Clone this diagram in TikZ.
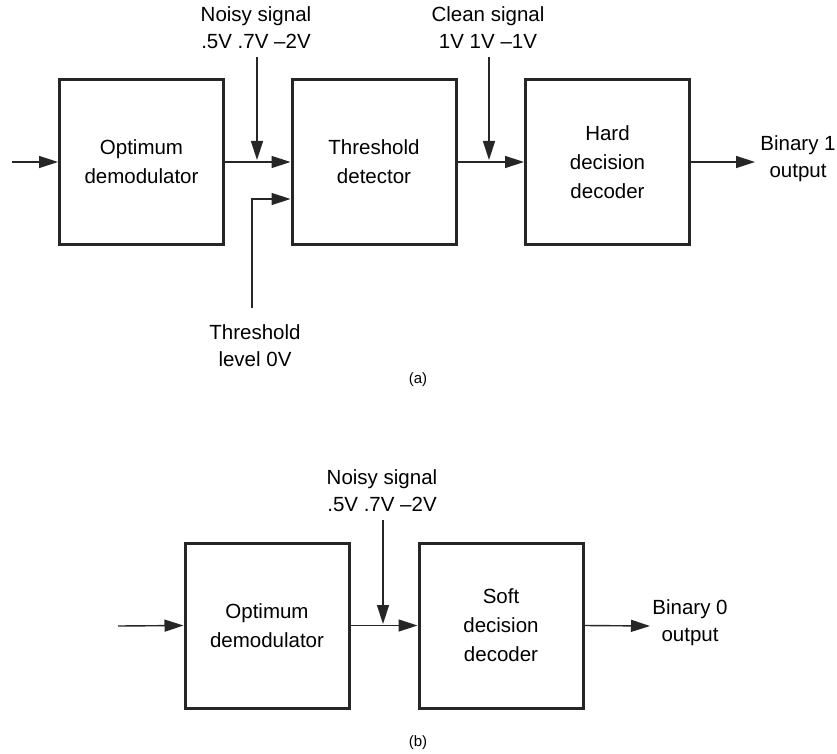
\documentclass[tikz,border=0pt]{standalone}
\usepackage{fontspec}
\setmainfont{Liberation Sans}
\usetikzlibrary{arrows.meta}
\begin{document}
\begin{tikzpicture}[x=1pt,y=-1pt,
  blk/.style={draw=black!85,line width=3pt,minimum width=164pt,minimum height=165pt,inner sep=0pt,align=center,font=\fontsize{20.5}{29}\selectfont},
  lbl/.style={align=center,inner sep=0pt,font=\fontsize{20.5}{27}\selectfont},
  figcap/.style={inner sep=0pt,font=\fontsize{15}{18}\selectfont},
  conn/.style={line width=1.4pt,draw=black!85,-{Triangle[length=19pt,width=12pt]}}]
\useasboundingbox (0,0) rectangle (837,754);
% (a)
\node[blk] (od) at (141.5,162) {Optimum\\demodulator};
\node[blk] (td) at (374,162) {Threshold\\detector};
\node[blk] (hd) at (607.5,162) {Hard\\decision\\decoder};
\coordinate (ina) at (12,162);
\coordinate (outa) at (755,162);
\node[lbl] (bin1) at (798,159) {Binary 1\\output};
\node[lbl] (noisya) at (256,28) {Noisy signal\\.5V .7V –2V};
\node[lbl] (cleana) at (488,28) {Clean signal\\1V 1V –1V};
\node[lbl] (thr) at (255,346) {Threshold\\level 0V};
\coordinate (nya1) at (257,57);
\coordinate (nya2) at (257,160);
\coordinate (cla1) at (489,57);
\coordinate (cla2) at (489,160);
\coordinate (tha1) at (252,308);
\coordinate (tha2) at (252,199);
\coordinate (tha3) at (td.west |- tha2);
\draw[conn] (ina) -- (od.west);
\draw[conn] (od.east) -- (td.west);
\draw[conn] (td.east) -- (hd.west);
\draw[conn] (hd.east) -- (outa);
\draw[conn] (nya1) -- (nya2);
\draw[conn] (cla1) -- (cla2);
\draw[conn] (tha1) -- (tha2) -- (tha3);
\node[figcap] (capa) at (418,380) {(a)};
% (b)
\node[blk] (odb) at (267,625.5) {Optimum\\demodulator};
\node[blk] (sd) at (501,625.5) {Soft\\decision\\decoder};
\coordinate (inb) at (118,626);
\coordinate (outb) at (650,626);
\node[lbl] (bin0) at (690,623) {Binary 0\\output};
\node[lbl] (noisyb) at (382,491) {Noisy signal\\.5V .7V –2V};
\coordinate (nyb1) at (383,520);
\coordinate (nyb2) at (383,624);
\draw[conn] (inb) -- (odb.west);
\draw[conn] (odb.east) -- (sd.west);
\draw[conn] (sd.east) -- (outb);
\draw[conn] (nyb1) -- (nyb2);
\node[figcap] (capb) at (418,743) {(b)};
\end{tikzpicture}
\end{document}
